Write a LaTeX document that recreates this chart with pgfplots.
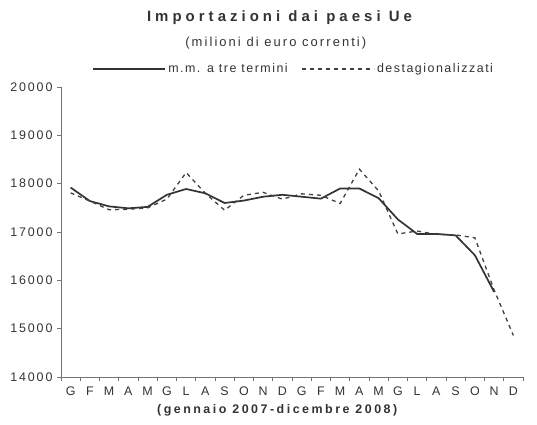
\documentclass[border=0pt]{standalone}
\usepackage{fontspec}
\setmainfont{Liberation Sans}
\newfontfamily\titlefont{Liberation Sans Bold}[LetterSpace=27]
\newfontfamily\labelfont{Liberation Sans Bold}[LetterSpace=20]
\newfontfamily\tickfont{Liberation Sans}[LetterSpace=15]
\newfontfamily\legfont{Liberation Sans}[LetterSpace=12]
\newfontfamily\subfont{Liberation Sans}[LetterSpace=16]
\usepackage{pgfplots}
\usepackage{pgfplotstable}
\pgfplotsset{compat=1.18}

% mesi gen 2007 - dic 2008; mm = media mobile a tre termini, dest = destagionalizzati
\pgfplotstableread{
x  mm     dest
0  17920  17810
1  17640  17640
2  17530  17460
3  17490  17470
4  17520  17500
5  17770  17680
6  17890  18230
7  17800  17800
8  17600  17450
9  17650  17760
10 17730  17820
11 17770  17680
12 17730  17790
13 17690  17760
14 17900  17590
15 17900  18300
16 17700  17850
17 17260  16960
18 16960  17020
19 16960  16950
20 16930  16940
21 16520  16880
22 15760  15800
23 nan    14860
}\importUe

\begin{document}
\begin{tikzpicture}
\path[use as bounding box] (-61bp,-48bp) rectangle (476bp,377bp);
\begin{axis}[
  at={(0,0)}, anchor=south west,
  width=462bp, height=290bp,
  scale only axis,
  clip=false,
  xmin=-0.5, xmax=23.5,
  ymin=14000, ymax=20000,
  axis x line*=bottom,
  axis y line*=left,
  axis line style={black!55, line width=0.8bp},
  tick style={black!55, line width=0.8bp},
  tick align=outside,
  major tick length=4bp,
  minor tick length=4bp,
  xtick={0,...,23},
  xticklabels={G,F,M,A,M,G,L,A,S,O,N,D,G,F,M,A,M,G,L,A,S,O,N,D},
  major x tick style={draw=none},
  minor xtick={-0.5,0.5,...,23.5},
  ytick={14000,15000,...,20000},
  scaled ticks=false,
  /pgf/number format/assume math mode=true,
  /pgf/number format/1000 sep={},
  tick label style={font=\tickfont\fontsize{12.5}{14}\selectfont, text=black!80},
  x tick label style={yshift=-2bp},
  y tick label style={xshift=-1bp},
  unbounded coords=jump,
  xlabel={(gennaio 2007-dicembre 2008)},
  xlabel style={at={(axis description cs:0.468,-0.114)}, anchor=center,
    font=\labelfont\fontsize{12.5}{14}\selectfont, text=black!80},
  legend image code/.code={\draw[#1] (0bp,0bp) -- (72bp,0bp);},
  legend columns=2,
  legend cell align=left,
  legend style={at={(axis description cs:0.068,1.062)}, anchor=west,
    draw=none, fill=none, inner sep=0pt,
    font=\legfont\fontsize{12.5}{14}\selectfont, text=black!80,
    /tikz/every even column/.append style={column sep=12bp}},
]
\addplot[black!80, line width=1.7bp] table[x=x, y=mm] {\importUe};
\addlegendentry{m.m. a tre termini}
\addplot[black!75, line width=1.3bp, dash pattern=on 4bp off 4bp] table[x=x, y=dest] {\importUe};
\addlegendentry{destagionalizzati}
\node[font=\titlefont\fontsize{15}{17}\selectfont, text=black!80] at (axis description cs:0.473,1.238) {Importazioni dai paesi Ue};
\node[font=\subfont\fontsize{13}{15}\selectfont, text=black!80] at (axis description cs:0.465,1.152) {(milioni di euro correnti)};
\end{axis}
\end{tikzpicture}
\end{document}
